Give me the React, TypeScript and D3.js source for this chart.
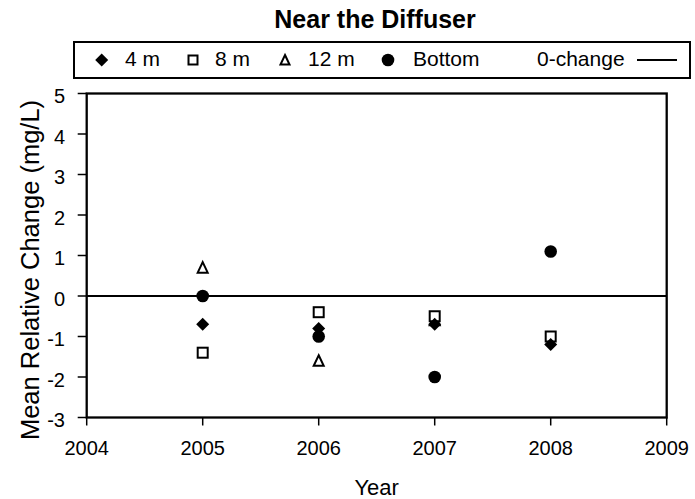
import React from "react";

import * as d3 from "d3";

const years = [2005, 2006, 2007, 2008];
const m4 = [-0.7, -0.8, -0.7, -1.2];
const m8 = [-1.4, -0.4, -0.5, -1.0];
const m12 = [0.7, -1.6, -0.6, null];
const bottom = [0.0, -1.0, -2.0, 1.1];
const yTicks = [5, 4, 3, 2, 1, 0, -1, -2, -3];
const xTicks = [2004, 2005, 2006, 2007, 2008, 2009];

const W = 695, H = 499;
const left = 86.7, right = 666.7, top = 93.5, bottomY = 417.5;
const font = "'Liberation Sans', Arial, sans-serif";

function Marker({ type, x, y, s = 1 }: { type: string; x: number; y: number; s?: number }) {
  if (type === "diamond") {
    const hw = 6.5 * s, hh = 6.5 * s;
    return <path d={`M${x},${y - hh}L${x + hw},${y}L${x},${y + hh}L${x - hw},${y}Z`} fill="#000" />;
  }
  if (type === "square") {
    const h = 5 * s;
    return <rect x={x - h} y={y - h} width={2 * h} height={2 * h} fill="#fff" stroke="#000" strokeWidth={2} />;
  }
  if (type === "triangle") {
    const h = 5 * s;
    return <path d={`M${x},${y - h - 0.5}L${x + h},${y + h}L${x - h},${y + h}Z`} fill="#fff" stroke="#000" strokeWidth={2} strokeLinejoin="miter" />;
  }
  return <circle cx={x} cy={y} r={6.3} fill="#000" />;
}

export default function App() {
  const x = d3.scaleLinear().domain([2004, 2009]).range([left, right]);
  const y = d3.scaleLinear().domain([-3, 5]).range([bottomY, top]);
  const series: { type: string; vals: (number | null)[] }[] = [
    { type: "triangle", vals: m12 },
    { type: "square", vals: m8 },
    { type: "diamond", vals: m4 },
    { type: "circle", vals: bottom },
  ];
  return (
    <svg width={W} height={H} style={{ position: "absolute", left: 0, top: 0, fontFamily: font }}>
      <rect width={W} height={H} fill="#fff" />
      <text x={375} y={28} textAnchor="middle" fontSize={25} fontWeight="bold">Near the Diffuser</text>
      {/* legend */}
      <rect x={74} y={42} width={616} height={36} fill="#fff" stroke="#000" strokeWidth={2} />
      <Marker type="diamond" x={101.7} y={60} />
      <text x={125} y={66} fontSize={21}>4 m</text>
      <Marker type="square" x={193} y={60} s={0.9} />
      <text x={215} y={66} fontSize={21}>8 m</text>
      <Marker type="triangle" x={285} y={60} s={0.9} />
      <text x={308} y={66} fontSize={21}>12 m</text>
      <Marker type="circle" x={388} y={60} />
      <text x={413} y={66} fontSize={21}>Bottom</text>
      <text x={537} y={66} fontSize={21}>0-change</text>
      <line x1={637} x2={677} y1={60} y2={60} stroke="#000" strokeWidth={1.8} />
      {/* zero line */}
      <line x1={left} x2={right} y1={y(0)} y2={y(0)} stroke="#000" strokeWidth={2} />
      {/* frame */}
      <rect x={left} y={top} width={right - left} height={bottomY - top} fill="none" stroke="#000" strokeWidth={2.3} />
      {yTicks.map((t) => (
        <g key={t}>
          <line x1={left - 9} x2={left} y1={y(t)} y2={y(t)} stroke="#000" strokeWidth={1.5} />
          <text x={65} y={y(t) + 9.5} textAnchor="end" fontSize={20}>{t}</text>
        </g>
      ))}
      {xTicks.map((t) => (
        <g key={t}>
          <line x1={x(t)} x2={x(t)} y1={bottomY} y2={bottomY + 8} stroke="#000" strokeWidth={1.5} />
          <text x={x(t)} y={455} textAnchor="middle" fontSize={20}>{t}</text>
        </g>
      ))}
      <text x={(left + right) / 2} y={495} textAnchor="middle" fontSize={22}>Year</text>
      <text transform={`translate(38.5,${270}) rotate(-90)`} textAnchor="middle" fontSize={25.5}>Mean Relative Change (mg/L)</text>
      {series.map((s) =>
        s.vals.map((v, i) =>
          v === null ? null : <Marker key={s.type + i} type={s.type} x={x(years[i])} y={y(v)} />
        )
      )}
    </svg>
  );
}
